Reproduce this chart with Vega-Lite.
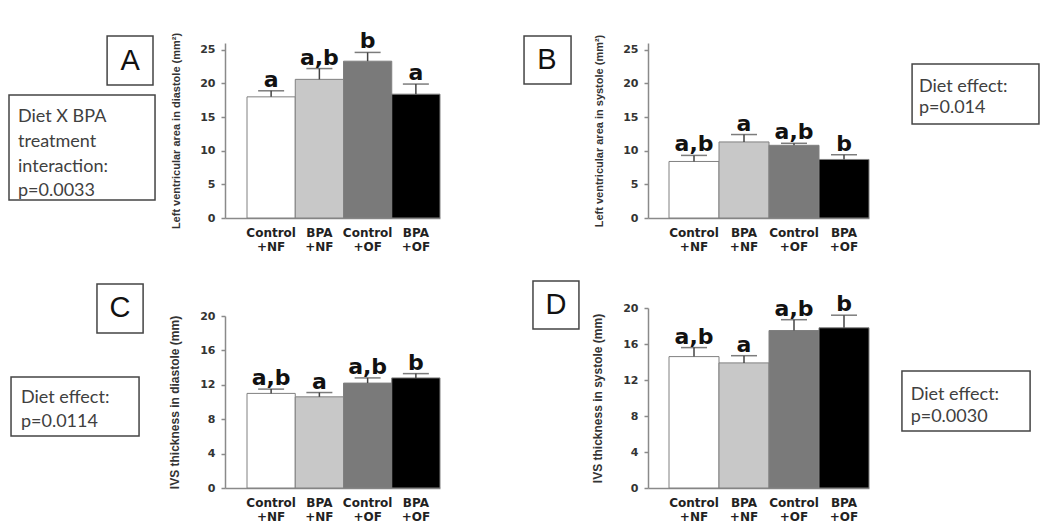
{
  "$schema": "https://vega.github.io/schema/vega-lite/v6.json",
  "background": "white",
  "padding": {"left": 0, "top": 30, "right": 0, "bottom": 0},
  "columns": 5,
  "align": "each",
  "bounds": "flush",
  "spacing": {"row": 90, "column": 0},
  "config": {
    "view": {"stroke": null},
    "font": "Liberation Sans",
    "axisY": {
      "grid": false, "domainColor": "#8a8a8a", "domainWidth": 1.5, "tickColor": "#8a8a8a", "tickSize": 4, "tickWidth": 1.5,
      "labelFont": "DejaVu Sans", "labelFontWeight": "bold", "labelFontSize": 11, "labelColor": "#333333", "labelPadding": 6, "labelOverlap": false,
      "titleFont": "Liberation Sans", "titleFontWeight": "bold", "titleFontSize": 11, "titleColor": "#333333", "titlePadding": 18
    },
    "axisX": {
      "grid": false, "domainColor": "#8a8a8a", "domainWidth": 1.5, "ticks": false, "tickSize": 0, "labelAngle": 0,
      "labelFont": "DejaVu Sans", "labelFontWeight": "bold", "labelFontSize": 12, "labelColor": "#222222", "labelPadding": 9, "labelLineHeight": 14,
      "labelBaseline": "top", "title": null
    }
  },
  "datasets": {
    "A": [
      {"group": "Control +NF", "value": 18.0, "upper": 18.9, "label": "a"},
      {"group": "BPA +NF", "value": 20.6, "upper": 22.2, "label": "a,b"},
      {"group": "Control +OF", "value": 23.3, "upper": 24.6, "label": "b"},
      {"group": "BPA +OF", "value": 18.4, "upper": 19.9, "label": "a"}
    ],
    "B": [
      {"group": "Control +NF", "value": 8.4, "upper": 9.3, "label": "a,b"},
      {"group": "BPA +NF", "value": 11.3, "upper": 12.4, "label": "a"},
      {"group": "Control +OF", "value": 10.8, "upper": 11.1, "label": "a,b"},
      {"group": "BPA +OF", "value": 8.7, "upper": 9.4, "label": "b"}
    ],
    "C": [
      {"group": "Control +NF", "value": 11.0, "upper": 11.5, "label": "a,b"},
      {"group": "BPA +NF", "value": 10.6, "upper": 11.1, "label": "a"},
      {"group": "Control +OF", "value": 12.2, "upper": 12.8, "label": "a,b"},
      {"group": "BPA +OF", "value": 12.8, "upper": 13.3, "label": "b"}
    ],
    "D": [
      {"group": "Control +NF", "value": 14.6, "upper": 15.6, "label": "a,b"},
      {"group": "BPA +NF", "value": 13.9, "upper": 14.7, "label": "a"},
      {"group": "Control +OF", "value": 17.5, "upper": 18.7, "label": "a,b"},
      {"group": "BPA +OF", "value": 17.8, "upper": 19.2, "label": "b"}
    ],
    "notesTopLeft": [
      {"kind": "box", "x": 0.476, "x2": 0.680, "y": -0.040, "y2": 0.240},
      {"kind": "letter", "x": 0.578, "y": 0.103, "text": "A"},
      {"kind": "box", "x": 0.040, "x2": 0.689, "y": 0.297, "y2": 0.897},
      {"kind": "line", "x": 0.080, "y": 0.451, "text": "Diet X BPA"},
      {"kind": "line", "x": 0.080, "y": 0.594, "text": "treatment"},
      {"kind": "line", "x": 0.080, "y": 0.737, "text": "interaction:"},
      {"kind": "line", "x": 0.080, "y": 0.874, "text": "p=0.0033"}
    ],
    "notesBottomLeft": [
      {"kind": "box", "x": 0.431, "x2": 0.636, "y": -0.133, "y2": 0.139},
      {"kind": "letter", "x": 0.533, "y": 0.0, "text": "C"},
      {"kind": "box", "x": 0.049, "x2": 0.618, "y": 0.383, "y2": 0.711},
      {"kind": "line", "x": 0.093, "y": 0.528, "text": "Diet effect:"},
      {"kind": "line", "x": 0.093, "y": 0.661, "text": "p=0.0114"}
    ],
    "notesTopMid": [
      {"kind": "box", "x": 0.404, "x2": 0.630, "y": -0.040, "y2": 0.234},
      {"kind": "letter", "x": 0.514, "y": 0.097, "text": "B"}
    ],
    "notesBottomMid": [
      {"kind": "box", "x": 0.447, "x2": 0.668, "y": -0.150, "y2": 0.117},
      {"kind": "letter", "x": 0.558, "y": -0.017, "text": "D"}
    ],
    "notesTopRight": [
      {"kind": "box", "x": 0.238, "x2": 0.939, "y": 0.120, "y2": 0.463},
      {"kind": "line", "x": 0.276, "y": 0.280, "text": "Diet effect:"},
      {"kind": "line", "x": 0.276, "y": 0.400, "text": "p=0.014"}
    ],
    "notesBottomRight": [
      {"kind": "box", "x": 0.182, "x2": 0.890, "y": 0.350, "y2": 0.683},
      {"kind": "line", "x": 0.230, "y": 0.511, "text": "Diet effect:"},
      {"kind": "line", "x": 0.230, "y": 0.633, "text": "p=0.0030"}
    ]
  },
  "concat": [
    {
      "width": 225, "height": 175,
      "data": {"name": "notesTopLeft"},
      "encoding": {
        "x": {"field": "x", "type": "quantitative", "scale": {"domain": [0, 1], "nice": false, "zero": false}, "axis": null},
        "y": {"field": "y", "type": "quantitative", "scale": {"domain": [0, 1], "nice": false, "zero": false, "reverse": true}, "axis": null}
      },
      "layer": [
        {"transform": [{"filter": "datum.kind == 'box'"}], "mark": {"type": "rect", "fill": "white", "stroke": "#444444", "strokeWidth": 1.5}, "encoding": {"x2": {"field": "x2"}, "y2": {"field": "y2"}}},
        {"transform": [{"filter": "datum.kind == 'letter'"}], "mark": {"type": "text", "font": "Liberation Sans", "fontSize": 29, "color": "#111111", "baseline": "middle", "align": "center"}, "encoding": {"text": {"field": "text"}}},
        {"transform": [{"filter": "datum.kind == 'line'"}], "mark": {"type": "text", "font": "Lato", "fontSize": 18, "color": "#404040", "baseline": "alphabetic", "align": "left"}, "encoding": {"text": {"field": "text"}}}
      ]
    },
    {
      "width": 215, "height": 175,
      "data": {"name": "A"},
      "encoding": {
        "x": {"field": "group", "type": "nominal", "sort": null, "scale": {"paddingInner": 0, "paddingOuter": 0.228, "align": 1}, "axis": {"labelExpr": "split(datum.label, ' ')"}}
      },
      "layer": [
        {"mark": {"type": "bar", "stroke": "#808080", "strokeWidth": 1}, "encoding": {
          "y": {"field": "value", "type": "quantitative", "scale": {"domain": [0, 25]}, "axis": {"values": [0, 5, 10, 15, 20, 25], "title": "Left ventricular area in diastole (mm²)"}},
          "color": {"field": "group", "type": "nominal", "sort": null, "scale": {"range": ["#ffffff", "#c8c8c8", "#7a7a7a", "#000000"]}, "legend": null}}},
        {"mark": {"type": "rule", "color": "#444444", "strokeWidth": 1.5}, "encoding": {"y": {"field": "value", "type": "quantitative", "axis": {"values": [0, 5, 10, 15, 20, 25], "title": "Left ventricular area in diastole (mm²)"}}, "y2": {"field": "upper"}}},
        {"mark": {"type": "tick", "color": "#444444", "thickness": 1.5, "size": 26}, "encoding": {"y": {"field": "upper", "type": "quantitative", "axis": {"values": [0, 5, 10, 15, 20, 25], "title": "Left ventricular area in diastole (mm²)"}}}},
        {"mark": {"type": "text", "font": "DejaVu Sans", "fontWeight": "bold", "fontSize": 22, "dy": -4, "baseline": "alphabetic", "color": "#111111"}, "encoding": {"y": {"field": "upper", "type": "quantitative", "axis": {"values": [0, 5, 10, 15, 20, 25], "title": "Left ventricular area in diastole (mm²)"}}, "text": {"field": "label"}}}
      ]
    },
    {
      "width": 208, "height": 175,
      "data": {"name": "notesTopMid"},
      "encoding": {
        "x": {"field": "x", "type": "quantitative", "scale": {"domain": [0, 1], "nice": false, "zero": false}, "axis": null},
        "y": {"field": "y", "type": "quantitative", "scale": {"domain": [0, 1], "nice": false, "zero": false, "reverse": true}, "axis": null}
      },
      "layer": [
        {"transform": [{"filter": "datum.kind == 'box'"}], "mark": {"type": "rect", "fill": "white", "stroke": "#444444", "strokeWidth": 1.5}, "encoding": {"x2": {"field": "x2"}, "y2": {"field": "y2"}}},
        {"transform": [{"filter": "datum.kind == 'letter'"}], "mark": {"type": "text", "font": "Liberation Sans", "fontSize": 29, "color": "#111111", "baseline": "middle", "align": "center"}, "encoding": {"text": {"field": "text"}}}
      ]
    },
    {
      "width": 221, "height": 175,
      "data": {"name": "B"},
      "encoding": {
        "x": {"field": "group", "type": "nominal", "sort": null, "scale": {"paddingInner": 0, "paddingOuter": 0.21, "align": 1}, "axis": {"labelExpr": "split(datum.label, ' ')"}}
      },
      "layer": [
        {"mark": {"type": "bar", "stroke": "#808080", "strokeWidth": 1}, "encoding": {
          "y": {"field": "value", "type": "quantitative", "scale": {"domain": [0, 25]}, "axis": {"values": [0, 5, 10, 15, 20, 25], "title": "Left ventricular area in systole (mm²)"}},
          "color": {"field": "group", "type": "nominal", "sort": null, "scale": {"range": ["#ffffff", "#c8c8c8", "#7a7a7a", "#000000"]}, "legend": null}}},
        {"mark": {"type": "rule", "color": "#444444", "strokeWidth": 1.5}, "encoding": {"y": {"field": "value", "type": "quantitative", "axis": {"values": [0, 5, 10, 15, 20, 25], "title": "Left ventricular area in systole (mm²)"}}, "y2": {"field": "upper"}}},
        {"mark": {"type": "tick", "color": "#444444", "thickness": 1.5, "size": 26}, "encoding": {"y": {"field": "upper", "type": "quantitative", "axis": {"values": [0, 5, 10, 15, 20, 25], "title": "Left ventricular area in systole (mm²)"}}}},
        {"mark": {"type": "text", "font": "DejaVu Sans", "fontWeight": "bold", "fontSize": 22, "dy": -4, "baseline": "alphabetic", "color": "#111111"}, "encoding": {"y": {"field": "upper", "type": "quantitative", "axis": {"values": [0, 5, 10, 15, 20, 25], "title": "Left ventricular area in systole (mm²)"}}, "text": {"field": "label"}}}
      ]
    },
    {
      "width": 181, "height": 175,
      "data": {"name": "notesTopRight"},
      "encoding": {
        "x": {"field": "x", "type": "quantitative", "scale": {"domain": [0, 1], "nice": false, "zero": false}, "axis": null},
        "y": {"field": "y", "type": "quantitative", "scale": {"domain": [0, 1], "nice": false, "zero": false, "reverse": true}, "axis": null}
      },
      "layer": [
        {"transform": [{"filter": "datum.kind == 'box'"}], "mark": {"type": "rect", "fill": "white", "stroke": "#444444", "strokeWidth": 1.5}, "encoding": {"x2": {"field": "x2"}, "y2": {"field": "y2"}}},
        {"transform": [{"filter": "datum.kind == 'line'"}], "mark": {"type": "text", "font": "Lato", "fontSize": 18, "color": "#404040", "baseline": "alphabetic", "align": "left"}, "encoding": {"text": {"field": "text"}}}
      ]
    },
    {
      "width": 225, "height": 180,
      "data": {"name": "notesBottomLeft"},
      "encoding": {
        "x": {"field": "x", "type": "quantitative", "scale": {"domain": [0, 1], "nice": false, "zero": false}, "axis": null},
        "y": {"field": "y", "type": "quantitative", "scale": {"domain": [0, 1], "nice": false, "zero": false, "reverse": true}, "axis": null}
      },
      "layer": [
        {"transform": [{"filter": "datum.kind == 'box'"}], "mark": {"type": "rect", "fill": "white", "stroke": "#444444", "strokeWidth": 1.5}, "encoding": {"x2": {"field": "x2"}, "y2": {"field": "y2"}}},
        {"transform": [{"filter": "datum.kind == 'letter'"}], "mark": {"type": "text", "font": "Liberation Sans", "fontSize": 29, "color": "#111111", "baseline": "middle", "align": "center"}, "encoding": {"text": {"field": "text"}}},
        {"transform": [{"filter": "datum.kind == 'line'"}], "mark": {"type": "text", "font": "Lato", "fontSize": 18, "color": "#404040", "baseline": "alphabetic", "align": "left"}, "encoding": {"text": {"field": "text"}}}
      ]
    },
    {
      "width": 215, "height": 180,
      "data": {"name": "C"},
      "encoding": {
        "x": {"field": "group", "type": "nominal", "sort": null, "scale": {"paddingInner": 0, "paddingOuter": 0.228, "align": 1}, "axis": {"labelExpr": "split(datum.label, ' ')"}}
      },
      "layer": [
        {"mark": {"type": "bar", "stroke": "#808080", "strokeWidth": 1}, "encoding": {
          "y": {"field": "value", "type": "quantitative", "scale": {"domain": [0, 20], "range": [180, 8]}, "axis": {"values": [0, 4, 8, 12, 16, 20], "title": "IVS thickness in diastole (mm)", "titleFontSize": 12}},
          "color": {"field": "group", "type": "nominal", "sort": null, "scale": {"range": ["#ffffff", "#c8c8c8", "#7a7a7a", "#000000"]}, "legend": null}}},
        {"mark": {"type": "rule", "color": "#444444", "strokeWidth": 1.5}, "encoding": {"y": {"field": "value", "type": "quantitative", "axis": {"values": [0, 4, 8, 12, 16, 20], "title": "IVS thickness in diastole (mm)", "titleFontSize": 12}}, "y2": {"field": "upper"}}},
        {"mark": {"type": "tick", "color": "#444444", "thickness": 1.5, "size": 26}, "encoding": {"y": {"field": "upper", "type": "quantitative", "axis": {"values": [0, 4, 8, 12, 16, 20], "title": "IVS thickness in diastole (mm)", "titleFontSize": 12}}}},
        {"mark": {"type": "text", "font": "DejaVu Sans", "fontWeight": "bold", "fontSize": 22, "dy": -4, "baseline": "alphabetic", "color": "#111111"}, "encoding": {"y": {"field": "upper", "type": "quantitative", "axis": {"values": [0, 4, 8, 12, 16, 20], "title": "IVS thickness in diastole (mm)", "titleFontSize": 12}}, "text": {"field": "label"}}}
      ]
    },
    {
      "width": 208, "height": 180,
      "data": {"name": "notesBottomMid"},
      "encoding": {
        "x": {"field": "x", "type": "quantitative", "scale": {"domain": [0, 1], "nice": false, "zero": false}, "axis": null},
        "y": {"field": "y", "type": "quantitative", "scale": {"domain": [0, 1], "nice": false, "zero": false, "reverse": true}, "axis": null}
      },
      "layer": [
        {"transform": [{"filter": "datum.kind == 'box'"}], "mark": {"type": "rect", "fill": "white", "stroke": "#444444", "strokeWidth": 1.5}, "encoding": {"x2": {"field": "x2"}, "y2": {"field": "y2"}}},
        {"transform": [{"filter": "datum.kind == 'letter'"}], "mark": {"type": "text", "font": "Liberation Sans", "fontSize": 29, "color": "#111111", "baseline": "middle", "align": "center"}, "encoding": {"text": {"field": "text"}}}
      ]
    },
    {
      "width": 221, "height": 180,
      "data": {"name": "D"},
      "encoding": {
        "x": {"field": "group", "type": "nominal", "sort": null, "scale": {"paddingInner": 0, "paddingOuter": 0.21, "align": 1}, "axis": {"labelExpr": "split(datum.label, ' ')"}}
      },
      "layer": [
        {"mark": {"type": "bar", "stroke": "#808080", "strokeWidth": 1}, "encoding": {
          "y": {"field": "value", "type": "quantitative", "scale": {"domain": [0, 20]}, "axis": {"values": [0, 4, 8, 12, 16, 20], "title": "IVS thickness in systole (mm)", "titleFontSize": 12}},
          "color": {"field": "group", "type": "nominal", "sort": null, "scale": {"range": ["#ffffff", "#c8c8c8", "#7a7a7a", "#000000"]}, "legend": null}}},
        {"mark": {"type": "rule", "color": "#444444", "strokeWidth": 1.5}, "encoding": {"y": {"field": "value", "type": "quantitative", "axis": {"values": [0, 4, 8, 12, 16, 20], "title": "IVS thickness in systole (mm)", "titleFontSize": 12}}, "y2": {"field": "upper"}}},
        {"mark": {"type": "tick", "color": "#444444", "thickness": 1.5, "size": 26}, "encoding": {"y": {"field": "upper", "type": "quantitative", "axis": {"values": [0, 4, 8, 12, 16, 20], "title": "IVS thickness in systole (mm)", "titleFontSize": 12}}}},
        {"mark": {"type": "text", "font": "DejaVu Sans", "fontWeight": "bold", "fontSize": 22, "dy": -4, "baseline": "alphabetic", "color": "#111111"}, "encoding": {"y": {"field": "upper", "type": "quantitative", "axis": {"values": [0, 4, 8, 12, 16, 20], "title": "IVS thickness in systole (mm)", "titleFontSize": 12}}, "text": {"field": "label"}}}
      ]
    },
    {
      "width": 181, "height": 180,
      "data": {"name": "notesBottomRight"},
      "encoding": {
        "x": {"field": "x", "type": "quantitative", "scale": {"domain": [0, 1], "nice": false, "zero": false}, "axis": null},
        "y": {"field": "y", "type": "quantitative", "scale": {"domain": [0, 1], "nice": false, "zero": false, "reverse": true}, "axis": null}
      },
      "layer": [
        {"transform": [{"filter": "datum.kind == 'box'"}], "mark": {"type": "rect", "fill": "white", "stroke": "#444444", "strokeWidth": 1.5}, "encoding": {"x2": {"field": "x2"}, "y2": {"field": "y2"}}},
        {"transform": [{"filter": "datum.kind == 'line'"}], "mark": {"type": "text", "font": "Lato", "fontSize": 18, "color": "#404040", "baseline": "alphabetic", "align": "left"}, "encoding": {"text": {"field": "text"}}}
      ]
    }
  ]
}
